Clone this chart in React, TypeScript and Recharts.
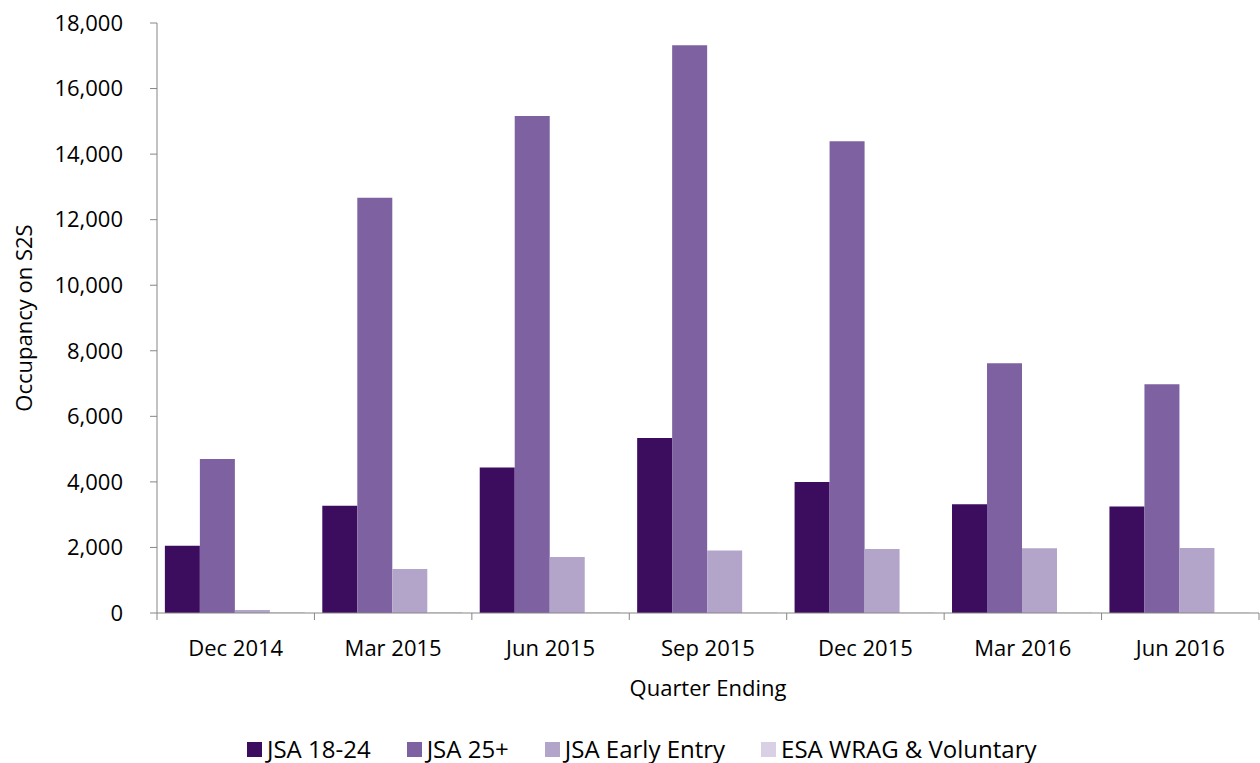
import React from 'react';
import { BarChart, Bar, XAxis, YAxis, Legend } from 'recharts';

const categories = ['Dec 2014', 'Mar 2015', 'Jun 2015', 'Sep 2015', 'Dec 2015', 'Mar 2016', 'Jun 2016'];
const jsa1824 = [2050, 3270, 4440, 5340, 4000, 3320, 3250];
const jsa25plus = [4700, 12670, 15160, 17320, 14390, 7620, 6980];
const jsaEarlyEntry = [90, 1340, 1710, 1910, 1950, 1975, 1985];
const esaWragVoluntary = [25, 20, 20, 15, 15, 15, 15];
const yTicks = [0, 2000, 4000, 6000, 8000, 10000, 12000, 14000, 16000, 18000];

const seriesNames = ['JSA 18-24', 'JSA 25+', 'JSA Early Entry', 'ESA WRAG & Voluntary'];
const seriesKeys = ['jsa1824', 'jsa25plus', 'jsaEarlyEntry', 'esaWragVoluntary'];
const seriesColors = ['#3C0D5F', '#7D61A0', '#B3A5C9', '#D9D0E6'];

const data = categories.map((quarter, i) => ({
  quarter,
  jsa1824: jsa1824[i],
  jsa25plus: jsa25plus[i],
  jsaEarlyEntry: jsaEarlyEntry[i],
  esaWragVoluntary: esaWragVoluntary[i],
}));

const FONT = '"Open Sans", sans-serif';
const AXIS_COLOR = '#868686';
const TEXT_COLOR = '#000000';
const CHART_W = 1260;
const CHART_H = 763;
const MARGIN = { top: 23, right: 1, left: 0, bottom: 22 };
const Y_AXIS_W = 157;
const X_AXIS_H = 100;
const BAND = (CHART_W - MARGIN.right - Y_AXIS_W) / categories.length;

const XTick = (props: any) => {
  const { x, y, payload, index } = props;
  const left = x - BAND / 2;
  const right = x + BAND / 2;
  return (
    <g>
      <line x1={left} x2={left} y1={y} y2={y + 7} stroke={AXIS_COLOR} strokeWidth={1} />
      {index === categories.length - 1 && (
        <line x1={right} x2={right} y1={y} y2={y + 7} stroke={AXIS_COLOR} strokeWidth={1} />
      )}
      <text
        x={x}
        y={y + 34}
        textAnchor="middle"
        dominantBaseline="central"
        fontSize={22}
        fontFamily={FONT}
        fill={TEXT_COLOR}
      >
        {payload.value}
      </text>
    </g>
  );
};

const LegendContent = () => (
  <div
    style={{
      display: 'flex',
      alignItems: 'center',
      paddingLeft: 247,
      height: 28,
      fontFamily: FONT,
      fontSize: 24,
      color: TEXT_COLOR,
      whiteSpace: 'nowrap',
    }}
  >
    {seriesNames.map((name, i) => (
      <div key={name} style={{ display: 'flex', alignItems: 'center', marginRight: 36 }}>
        <span
          style={{
            display: 'inline-block',
            width: 15,
            height: 15,
            background: seriesColors[i],
            marginRight: 5,
          }}
        />
        <span style={{ lineHeight: '28px' }}>{name}</span>
      </div>
    ))}
  </div>
);

export default function App() {
  return (
    <div style={{ position: 'absolute', left: 0, top: 0, width: CHART_W, height: CHART_H, background: '#fff' }}>
      <BarChart
        width={CHART_W}
        height={CHART_H}
        data={data}
        margin={MARGIN}
        barCategoryGap="5%"
        barGap={0}
      >
        <XAxis
          dataKey="quarter"
          height={X_AXIS_H}
          axisLine={{ stroke: AXIS_COLOR, strokeWidth: 1 }}
          tickLine={false}
          tickSize={0}
          tickMargin={0}
          tick={<XTick />}
          interval={0}
          label={(p: any) => {
            const vb = p.viewBox;
            return (
              <text
                x={vb.x + vb.width / 2}
                y={vb.y + 74}
                textAnchor="middle"
                dominantBaseline="central"
                fontSize={22}
                fontFamily={FONT}
                fill={TEXT_COLOR}
              >
                Quarter Ending
              </text>
            );
          }}
        />
        <YAxis
          width={Y_AXIS_W}
          domain={[0, 18000]}
          ticks={yTicks}
          interval={0}
          axisLine={{ stroke: AXIS_COLOR, strokeWidth: 1 }}
          tickLine={{ stroke: AXIS_COLOR, strokeWidth: 1 }}
          tickSize={7}
          tickMargin={27}
          tick={{ fontSize: 22, fontFamily: FONT, fill: TEXT_COLOR }}
          tickFormatter={(v: number) => v.toLocaleString('en-US')}
          label={(p: any) => {
            const vb = p.viewBox;
            const cx = vb.x + 23;
            const cy = vb.y + vb.height / 2;
            return (
              <text
                x={cx}
                y={cy}
                textAnchor="middle"
                dominantBaseline="central"
                transform={`rotate(-90 ${cx} ${cy})`}
                fontSize={22}
                fontFamily={FONT}
                fill={TEXT_COLOR}
              >
                Occupancy on S2S
              </text>
            );
          }}
        />
        <Legend
          verticalAlign="bottom"
          content={<LegendContent />}
          wrapperStyle={{ left: 0, bottom: 0, width: CHART_W }}
        />
        {seriesKeys.map((k, i) => (
          <Bar key={k} dataKey={k} name={seriesNames[i]} fill={seriesColors[i]} isAnimationActive={false} />
        ))}
      </BarChart>
    </div>
  );
}
